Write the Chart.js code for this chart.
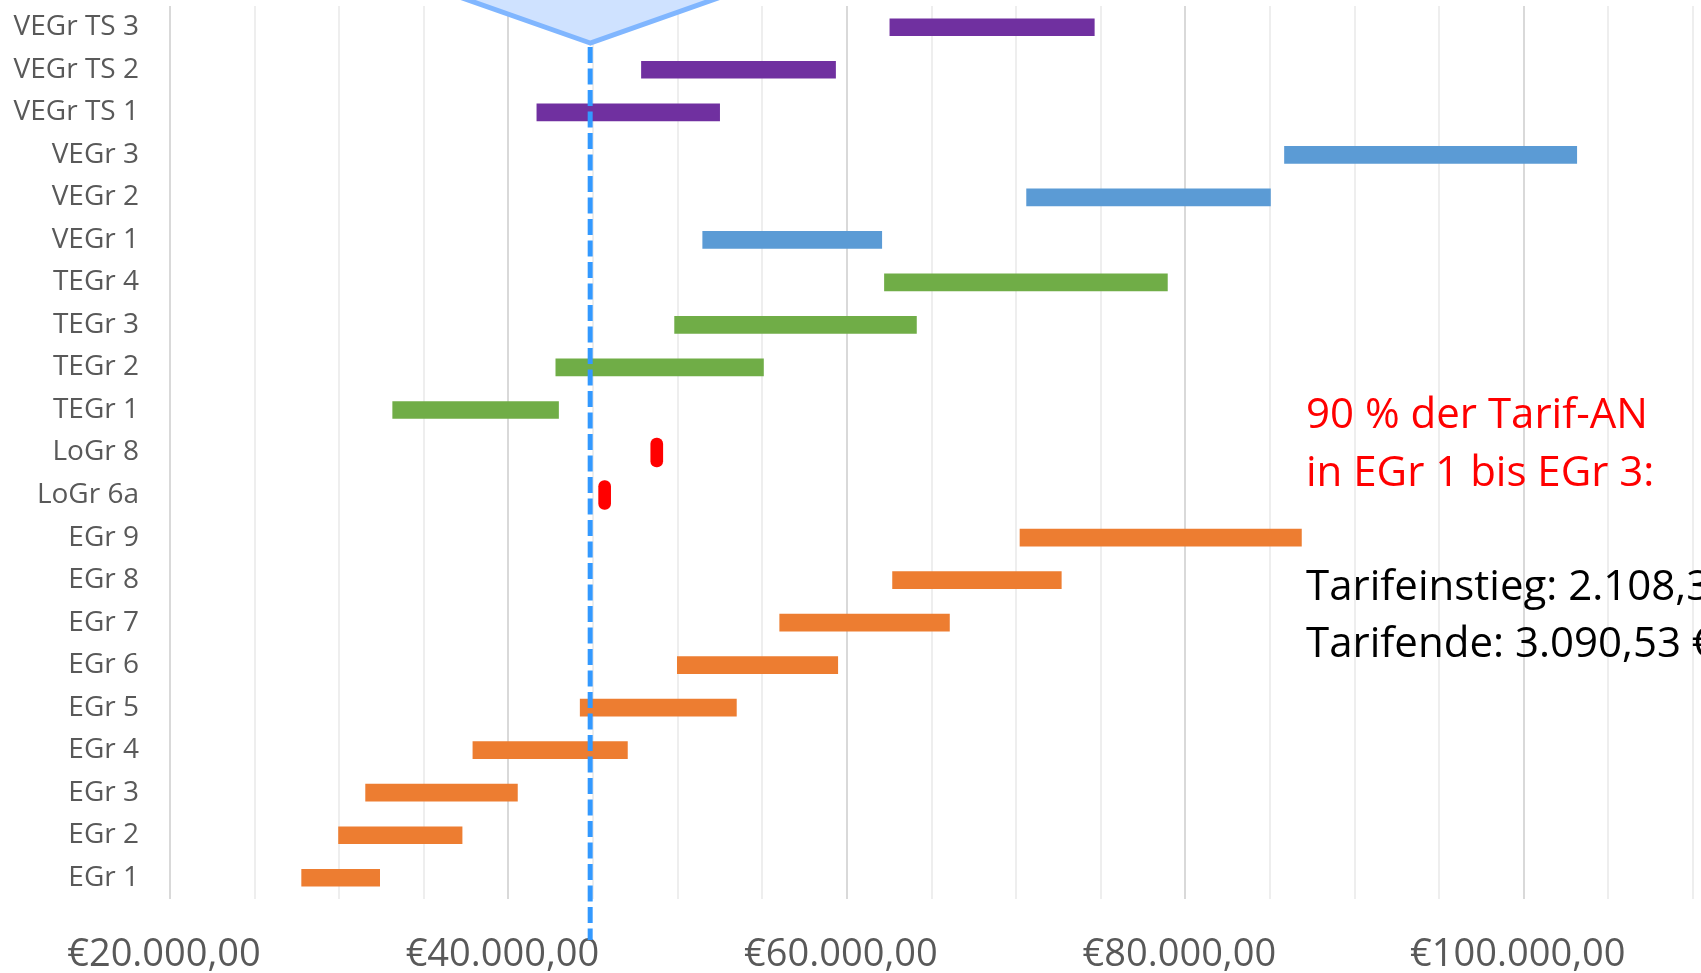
<!DOCTYPE html>
<html>
<head>
<meta charset="utf-8">
<script src="https://cdn.jsdelivr.net/npm/chart.js@4"></script>
<style>
  html, body { margin: 0; padding: 0; background: #fff; }
  #wrap { width: 1701px; height: 973px; position: relative; }
</style>
</head>
<body>
<div id="wrap"><canvas id="rangeChart"></canvas></div>
<script>
// Kategorien von oben nach unten
const categories = ['VEGr TS 3','VEGr TS 2','VEGr TS 1','VEGr 3','VEGr 2','VEGr 1',
  'TEGr 4','TEGr 3','TEGr 2','TEGr 1','LoGr 8','LoGr 6a',
  'EGr 9','EGr 8','EGr 7','EGr 6','EGr 5','EGr 4','EGr 3','EGr 2','EGr 1'];

// Jahresgehalt von / bis je Gruppe
const egrLabels = ['EGr 1','EGr 2','EGr 3','EGr 4','EGr 5','EGr 6','EGr 7','EGr 8','EGr 9'];
const egrStart  = [27780, 29960, 31560, 37900, 44240, 49980, 56030, 62700, 70230];
const egrEnd    = [32390, 37260, 40530, 47030, 53470, 59460, 66060, 72670, 86860];

const logrLabels = ['LoGr 6a','LoGr 8'];
const logrStart  = [45330, 48410];
const logrEnd    = [46040, 49120];

const tegrLabels = ['TEGr 1','TEGr 2','TEGr 3','TEGr 4'];
const tegrStart  = [33160, 42800, 49820, 62220];
const tegrEnd    = [42960, 55070, 64110, 78940];

const vegrLabels = ['VEGr 1','VEGr 2','VEGr 3'];
const vegrStart  = [51480, 70620, 85860];
const vegrEnd    = [62060, 85030, 103130];

const vegrTsLabels = ['VEGr TS 1','VEGr TS 2','VEGr TS 3'];
const vegrTsStart  = [41680, 47860, 62540];
const vegrTsEnd    = [52480, 59330, 74620];

// Markierung (gestrichelte Linie)
const referenceSalary = 44830;

const xTickValues = [20000, 40000, 60000, 80000, 100000];
const xTickLabels = ['€20.000,00', '€40.000,00', '€60.000,00', '€80.000,00', '€100.000,00'];

const noteRed   = ['90 % der Tarif-AN', 'in EGr 1 bis EGr 3:'];
const noteBlack = ['Tarifeinstieg: 2.108,38 €', 'Tarifende: 3.090,53 €'];

const FONT = "'Open Sans', 'Noto Sans', sans-serif";

function ranges(labels, start, end) {
  return labels.map((l, i) => ({ y: l, x: [start[i], end[i]] }));
}

function barSet(name, labels, start, end, color) {
  return {
    label: name,
    data: ranges(labels, start, end),
    backgroundColor: color,
    barThickness: 17,
    grouped: false,
    borderSkipped: false
  };
}

const overlay = {
  id: 'overlay',
  afterDraw(chart) {
    const ctx = chart.ctx;
    const x = chart.scales.x.getPixelForValue(referenceSalary);
    const tipY = 43;

    // gestrichelte Linie
    ctx.save();
    ctx.strokeStyle = '#3399FF';
    ctx.lineWidth = 5;
    ctx.setLineDash([16, 5.5]);
    ctx.beginPath();
    ctx.moveTo(x, tipY + 4);
    ctx.lineTo(x, 940);
    ctx.stroke();
    ctx.restore();

    // Dreieck oben
    ctx.save();
    ctx.beginPath();
    ctx.moveTo(x, tipY);
    ctx.lineTo(x - 123 * 2, tipY - 43.3 * 2);
    ctx.lineTo(x + 123 * 2, tipY - 43.3 * 2);
    ctx.closePath();
    ctx.fillStyle = '#CFE2FF';
    ctx.fill();
    ctx.strokeStyle = '#80B6FF';
    ctx.lineWidth = 5;
    ctx.stroke();
    ctx.restore();

    // Textfeld
    ctx.save();
    ctx.textAlign = 'left';
    ctx.textBaseline = 'alphabetic';
    ctx.fillStyle = '#FF0000';
    ctx.font = '42px ' + FONT;
    ctx.fillText(noteRed[0], 1306, 428);
    ctx.fillText(noteRed[1], 1306, 486);
    ctx.fillStyle = '#000000';
    ctx.fillText(noteBlack[0], 1306, 600);
    ctx.fillText(noteBlack[1], 1306, 657);
    ctx.restore();
  }
};

new Chart(document.getElementById('rangeChart'), {
  type: 'bar',
  data: {
    labels: categories,
    datasets: [
      barSet('EGr', egrLabels, egrStart, egrEnd, '#ED7D31'),
      Object.assign(barSet('LoGr', logrLabels, logrStart, logrEnd, '#FF0000'), { barThickness: 29, borderRadius: 6 }),
      barSet('TEGr', tegrLabels, tegrStart, tegrEnd, '#70AD47'),
      barSet('VEGr', vegrLabels, vegrStart, vegrEnd, '#5B9BD5'),
      barSet('VEGr TS', vegrTsLabels, vegrTsStart, vegrTsEnd, '#7030A0')
    ]
  },
  options: {
    indexAxis: 'y',
    responsive: true,
    maintainAspectRatio: false,
    animation: false,
    layout: { padding: { top: 6, right: 8, left: 0, bottom: 0 } },
    plugins: {
      legend: { display: false },
      tooltip: { enabled: false }
    },
    scales: {
      x: {
        type: 'linear',
        min: 20000,
        max: 110000,
        border: { display: false },
        grid: {
          drawTicks: false,
          lineWidth: 2,
          color: c => (c.tick && c.tick.value % 20000 === 0) ? '#D9D9D9' : '#EEEEEE'
        },
        ticks: {
          stepSize: 5000,
          autoSkip: false,
          maxRotation: 0,
          padding: 33,
          labelOffset: -6,
          color: '#595959',
          font: { family: FONT, size: 38 },
          callback: v => {
            const i = xTickValues.indexOf(v);
            return i >= 0 ? xTickLabels[i] : '';
          }
        },
        afterFit: s => { s.height = 74; s.paddingLeft = 0; s.paddingRight = 0; }
      },
      y: {
        type: 'category',
        border: { display: false },
        grid: { display: false, drawTicks: false },
        ticks: {
          padding: 31,
          color: '#595959',
          font: { family: FONT, size: 28 }
        },
        afterFit: s => { s.width = 170; s.paddingTop = 0; s.paddingBottom = 0; }
      }
    }
  },
  plugins: [overlay]
});
</script>
</body>
</html>
